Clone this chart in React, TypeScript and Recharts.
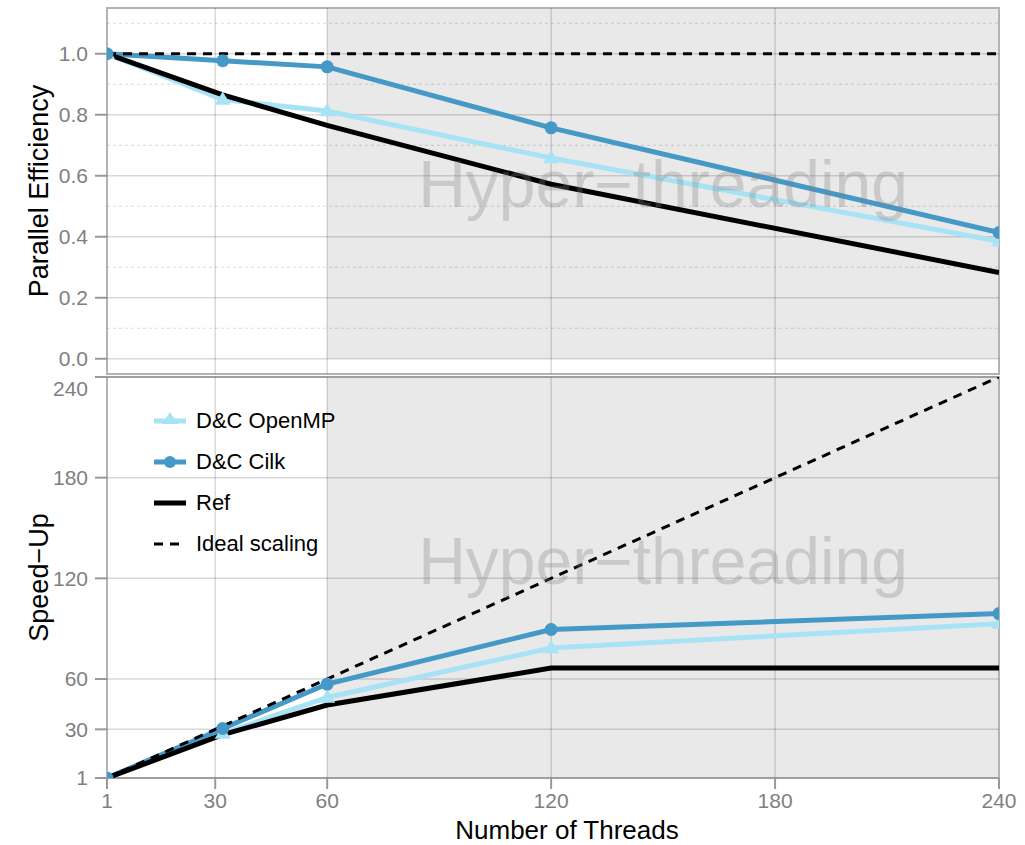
import React from "react";
import {
  LineChart,
  Line,
  XAxis,
  YAxis,
  ReferenceArea,
  ReferenceLine,
  Legend,
} from "recharts";

// thread counts
const threads = [1, 32, 60, 120, 240];
const idealThreads = [1, 240];
const xTicks = [1, 30, 60, 120, 180, 240];
const xGrid = [30, 60, 120, 180];

// parallel efficiency (top panel)
const openmpEff = [1.0, 0.85, 0.812, 0.658, 0.385];
const cilkEff = [1.0, 0.977, 0.957, 0.757, 0.414];
const refEff = [1.0, 0.865, 0.765, 0.572, 0.283];
const idealEff = [1.0, 1.0];
const effTicks = [0, 0.2, 0.4, 0.6, 0.8, 1.0];
const effMinor = [0.1, 0.3, 0.5, 0.7, 0.9, 1.1];

// speed-up (bottom panel)
const openmpSpeed = [1, 27.5, 49, 78.5, 93];
const cilkSpeed = [1, 30.5, 57, 89.5, 99];
const refSpeed = [1, 26.8, 44.5, 66.5, 66.5];
const idealSpeed = [1, 240];
const speedTicks = [1, 30, 60, 120, 180, 240];

const OPENMP = "#a8e3f5";
const CILK = "#4499c6";
const GRID = "rgba(0,0,0,0.15)";
const BORDER = "#b3b3b3";
const FONT = "'Liberation Sans', Arial, sans-serif";

const toPoints = (xs: number[], ys: number[]) => xs.map((x, i) => ({ x, y: ys[i] }));

const legendItems = [
  { name: "D&C OpenMP", color: OPENMP, marker: "triangle", dash: undefined, width: 5 },
  { name: "D&C Cilk", color: CILK, marker: "circle", dash: undefined, width: 5 },
  { name: "Ref", color: "#000", marker: "none", dash: undefined, width: 5 },
  { name: "Ideal scaling", color: "#000", marker: "none", dash: "9 7", width: 3 },
];

const Triangle = (props: any) => {
  const { cx, cy, index } = props;
  if (cx == null || cy == null) return <g key={`t-${index}`} />;
  const s = 8;
  return (
    <polygon
      key={`t-${index}`}
      points={`${cx},${cy - s} ${cx - s},${cy + s * 0.65} ${cx + s},${cy + s * 0.65}`}
      fill={OPENMP}
    />
  );
};

const LegendBox = () => (
  <div style={{ fontFamily: FONT, fontSize: 22, color: "#000" }}>
    {legendItems.map((it) => (
      <div key={it.name} style={{ display: "flex", alignItems: "center", height: 41 }}>
        <svg width={40} height={24} style={{ marginRight: 4 }}>
          <line
            x1={2}
            x2={34}
            y1={12}
            y2={12}
            stroke={it.color}
            strokeWidth={it.width}
            strokeDasharray={it.dash}
          />
          {it.marker === "circle" && <circle cx={18} cy={12} r={6} fill={it.color} />}
          {it.marker === "triangle" && (
            <polygon points="18,3 10,15 26,15" fill={it.color} />
          )}
        </svg>
        <span>{it.name}</span>
      </div>
    ))}
  </div>
);

const tickStyle = { fill: "#7f7f7f", fontSize: 21 };
const tickLine = { stroke: "#999", strokeWidth: 2 };

export default function App() {
  const openmpTop = toPoints(threads, openmpEff);
  const cilkTop = toPoints(threads, cilkEff);
  const refTop = toPoints(threads, refEff);
  const idealTop = toPoints(idealThreads, idealEff);

  const openmpBot = toPoints(threads, openmpSpeed);
  const cilkBot = toPoints(threads, cilkSpeed);
  const refBot = toPoints(threads, refSpeed);
  const idealBot = toPoints(idealThreads, idealSpeed);

  const htLabel = {
    value: "Hyper\u2212threading",
    position: "center" as const,
    fill: "#808080",
    fillOpacity: 0.3,
    fontSize: 66,
  };

  return (
    <div
      style={{
        position: "absolute",
        left: 0,
        top: 0,
        width: 1025,
        height: 845,
        background: "#fff",
        fontFamily: FONT,
      }}
    >
      <div style={{ position: "absolute", left: 0, top: 0 }}>
        <LineChart width={1025} height={376} margin={{ top: 8, right: 26, bottom: 2, left: 0 }}>
          <XAxis
            dataKey="x"
            type="number"
            domain={[1, 240]}
            ticks={xTicks}
            allowDataOverflow
            hide
          />
          <YAxis
            type="number"
            domain={[-0.05, 1.15]}
            ticks={effTicks}
            allowDataOverflow
            width={107}
            tickFormatter={(v: number) => v.toFixed(1)}
            tick={tickStyle}
            tickSize={12}
            tickMargin={7}
            tickLine={tickLine}
            axisLine={false}
            label={{
              value: "Parallel Efficiency",
              angle: -90,
              position: "insideLeft",
              offset: 38,
              style: { textAnchor: "middle", fill: "#000", fontSize: 27 },
            }}
          />
          <ReferenceArea x1={60} x2={240} y1={0} y2={1.15} fill="#000" fillOpacity={0.085} stroke="none" />
          {effMinor.map((v) => (
            <ReferenceLine key={`m${v}`} y={v} stroke={GRID} strokeWidth={1} strokeDasharray="3 3" />
          ))}
          {effTicks.map((v) => (
            <ReferenceLine key={`g${v}`} y={v} stroke={GRID} strokeWidth={1.5} />
          ))}
          {xGrid.map((v) => (
            <ReferenceLine key={`v${v}`} x={v} stroke={GRID} strokeWidth={1.5} />
          ))}
          <Line data={openmpTop} dataKey="y" stroke={OPENMP} strokeWidth={5} dot={Triangle} isAnimationActive={false} />
          <Line data={cilkTop} dataKey="y" stroke={CILK} strokeWidth={5} dot={{ r: 6.5, fill: CILK, stroke: "none" }} isAnimationActive={false} />
          <Line data={refTop} dataKey="y" stroke="#000" strokeWidth={5} dot={false} isAnimationActive={false} />
          <Line data={idealTop} dataKey="y" stroke="#000" strokeWidth={3} strokeDasharray="9 7" dot={false} isAnimationActive={false} />
          <ReferenceArea x1={60} x2={240} y1={0} y2={1.15} fill="none" stroke="none" label={htLabel} />
          <ReferenceArea x1={1} x2={240} y1={-0.05} y2={1.15} fill="none" stroke={BORDER} strokeWidth={2} />
        </LineChart>
      </div>
      <div style={{ position: "absolute", left: 0, top: 376 }}>
        <LineChart width={1025} height={469} margin={{ top: 1, right: 26, bottom: 0, left: 0 }}>
          <XAxis
            dataKey="x"
            type="number"
            domain={[1, 240]}
            ticks={xTicks}
            allowDataOverflow
            height={67}
            tick={tickStyle}
            tickSize={11}
            tickMargin={4}
            tickLine={tickLine}
            axisLine={false}
            label={{
              value: "Number of Threads",
              position: "insideBottom",
              offset: 6,
              dx: 14,
              style: { fill: "#000", fontSize: 26 },
            }}
          />
          <YAxis
            type="number"
            domain={[1, 240]}
            ticks={speedTicks}
            allowDataOverflow
            width={107}
            tick={tickStyle}
            tickSize={12}
            tickMargin={7}
            tickLine={tickLine}
            axisLine={false}
            label={{
              value: "Speed\u2212Up",
              angle: -90,
              position: "insideLeft",
              offset: 38,
              style: { textAnchor: "middle", fill: "#000", fontSize: 27 },
            }}
          />
          <ReferenceArea x1={60} x2={240} y1={1} y2={240} fill="#000" fillOpacity={0.085} stroke="none" />
          {speedTicks.map((v) => (
            <ReferenceLine key={`g${v}`} y={v} stroke={GRID} strokeWidth={1.5} />
          ))}
          {xGrid.map((v) => (
            <ReferenceLine key={`v${v}`} x={v} stroke={GRID} strokeWidth={1.5} />
          ))}
          <Line data={openmpBot} dataKey="y" stroke={OPENMP} strokeWidth={5} dot={Triangle} isAnimationActive={false} />
          <Line data={cilkBot} dataKey="y" stroke={CILK} strokeWidth={5} dot={{ r: 6.5, fill: CILK, stroke: "none" }} isAnimationActive={false} />
          <Line data={refBot} dataKey="y" stroke="#000" strokeWidth={5} dot={false} isAnimationActive={false} />
          <Line data={idealBot} dataKey="y" stroke="#000" strokeWidth={3} strokeDasharray="9 7" dot={false} isAnimationActive={false} />
          <ReferenceArea x1={60} x2={240} y1={1} y2={240} fill="none" stroke="none" label={{ ...htLabel, dy: -17 }} />
          <ReferenceArea x1={1} x2={240} y1={1} y2={240} fill="none" stroke={BORDER} strokeWidth={2} />
          <Legend
            layout="horizontal"
            verticalAlign="middle"
            align="center"
            content={<LegendBox />}
            wrapperStyle={{ position: "absolute", left: 152, top: 24, width: "auto", height: "auto" }}
          />
        </LineChart>
      </div>
    </div>
  );
}
